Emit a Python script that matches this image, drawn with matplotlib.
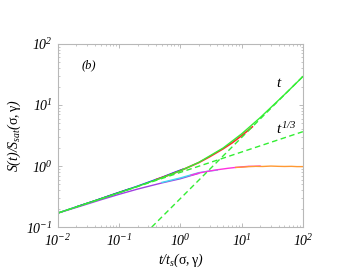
import matplotlib
matplotlib.use("Agg")
import matplotlib.pyplot as plt

plt.rcParams["font.family"] = ["Liberation Serif", "DejaVu Serif"]
plt.rcParams["mathtext.fontset"] = "custom"
plt.rcParams["mathtext.rm"] = "Liberation Serif:italic"
plt.rcParams["mathtext.it"] = "Liberation Serif:italic"
plt.rcParams["mathtext.sf"] = "Liberation Serif"

# crossover curve (green solid) and data sets on the upper branch
t_cross = [0.01, 0.02, 0.05, 0.1, 0.2, 0.5, 1, 2, 5, 10, 20, 50, 100]
s_cross = [0.17, 0.214, 0.29, 0.367, 0.465, 0.643, 0.84, 1.15, 1.98, 3.37, 6.19, 14.8, 29.2]

t_black = [0.02, 0.04, 0.08, 0.15]
s_black = [0.215, 0.27, 0.345, 0.425]

t_blue = [0.01, 0.02, 0.05, 0.1, 0.2, 0.5, 0.8, 1.1]
s_blue = [0.17, 0.215, 0.292, 0.37, 0.47, 0.655, 0.79, 0.89]

t_red = [0.4, 0.7, 1, 2, 3, 5, 7, 10, 13, 15]
s_red = [0.6, 0.73, 0.84, 1.14, 1.42, 1.92, 2.4, 3.15, 3.9, 4.4]

# saturating branch
t_purple = [0.01, 0.02, 0.05, 0.1, 0.2, 0.5, 1, 1.5, 2]
s_purple = [0.17, 0.21, 0.28, 0.345, 0.42, 0.53, 0.62, 0.7, 0.76]

t_cyan = [0.5, 1, 2, 3, 4]
s_cyan = [0.54, 0.64, 0.78, 0.83, 0.86]

t_magenta = [1.5, 2, 3, 4, 6, 8, 10, 13, 16, 20]
s_magenta = [0.71, 0.77, 0.83, 0.87, 0.92, 0.95, 0.97, 0.99, 0.99, 1.0]

t_orange = [8, 10, 13, 17, 22, 30, 40, 50, 65, 80, 100]
s_orange = [0.95, 0.96, 0.98, 0.99, 0.985, 1.0, 0.99, 0.985, 0.99, 0.98, 0.98]

# power-law guides
t_lin = [0.34, 100]
s_lin = [0.1, 29.4]
t_third = [0.01, 100]
s_third = [0.17, 3.66]

fig = plt.figure(figsize=(3.53, 2.73), dpi=100)
ax = fig.add_axes([0.164, 0.168, 0.694, 0.671])

ax.plot(t_black, s_black, color="#505050", lw=1.0)
ax.plot(t_blue, s_blue, color="#1a1aff", lw=1.0)
ax.plot(t_red, s_red, color="#ff2a2a", lw=1.2)
ax.plot(t_purple, s_purple, color="#a040e0", lw=1.0)
ax.plot(t_cyan, s_cyan, color="#40d8f0", lw=1.0)
ax.plot(t_magenta, s_magenta, color="#ff30e0", lw=1.0)
ax.plot(t_orange, s_orange, color="#ff9933", lw=1.0)
ax.plot(t_cross, s_cross, color="#33ee33", lw=1.0)
ax.plot(t_lin, s_lin, color="#33ee33", lw=1.0, ls=(0, (4, 2.5)))
ax.plot(t_third, s_third, color="#33ee33", lw=1.0, ls=(0, (4, 2.5)))

ax.set_xscale("log")
ax.set_yscale("log")
ax.set_xlim(0.01, 100)
ax.set_ylim(0.1, 100)

ax.set_xticks([0.01, 0.1, 1, 10, 100])
ax.set_xticklabels([r"$10^{-2}$", r"$10^{-1}$", r"$10^{0}$", r"$10^{1}$", r"$10^{2}$"])
ax.set_yticks([0.1, 1, 10, 100])
ax.set_yticklabels([r"$10^{-1}$", r"$10^{0}$", r"$10^{1}$", r"$10^{2}$"])

ax.tick_params(which="both", direction="in", top=True, right=True,
               colors="#b0b0b0", labelcolor="black", labelsize=10, pad=4)
ax.tick_params(which="major", length=3, width=0.6)
ax.tick_params(which="minor", length=1.5, width=0.5)
for sp in ax.spines.values():
    sp.set_color("#b8b8b8")
    sp.set_linewidth(0.8)

ax.set_xlabel(r"$t/t_s(\mathsf{\sigma,\gamma})$", fontsize=10, labelpad=2)
ax.set_ylabel(r"$S(t)/S_{sat}(\mathsf{\sigma,\gamma})$", fontsize=10, labelpad=2)

ax.text(0.024, 40, "(b)", fontsize=9, style="italic")
ax.text(36, 20, r"$t$", fontsize=11)
ax.text(36, 3.3, r"$t^{1/3}$", fontsize=11)

fig.savefig("out.png", dpi=100)
